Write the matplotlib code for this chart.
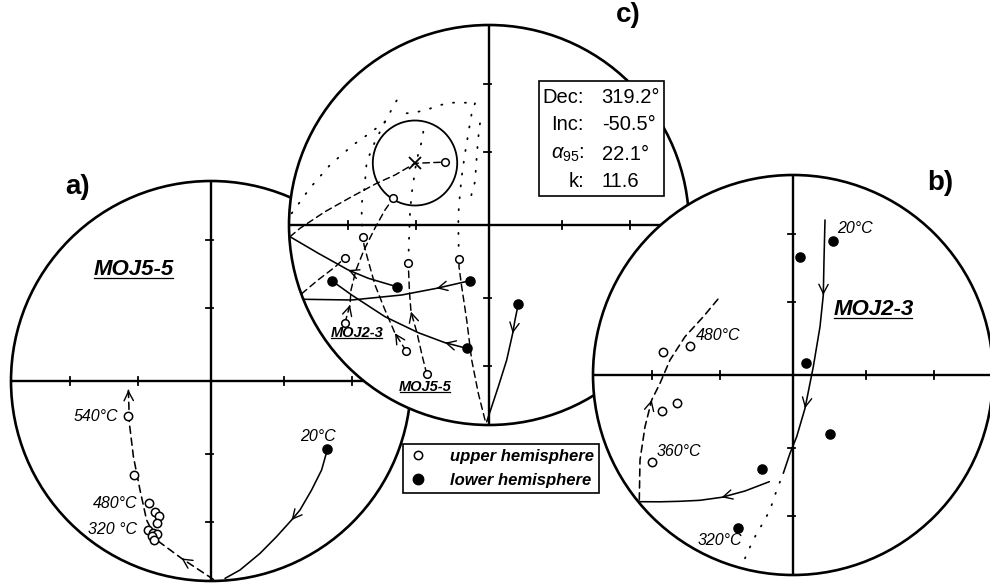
import matplotlib
matplotlib.use('Agg')
import matplotlib.pyplot as plt
from matplotlib.patches import Circle, Ellipse, Rectangle
from matplotlib.lines import Line2D

plt.rcParams['font.family'] = ['Liberation Sans', 'DejaVu Sans']
plt.rcParams['mathtext.fontset'] = 'custom'
plt.rcParams['mathtext.rm'] = 'Liberation Sans'
plt.rcParams['mathtext.it'] = 'Liberation Sans:italic'

# all positions in equal-area net units (east, north), primitive radius = 1
tick_r = [0.366, 0.707]  # 60 and 30 deg inclination

# ---- a) MOJ5-5
a_open = [(-0.413, -0.175), (-0.383, -0.47), (-0.31, -0.612), (-0.28, -0.653),
          (-0.258, -0.673), (-0.272, -0.708), (-0.317, -0.745), (-0.288, -0.758),
          (-0.272, -0.767), (-0.297, -0.775), (-0.285, -0.795)]
a_closed = [(0.582, -0.342)]
a_solid = [(0.582, -0.342), (0.553, -0.445), (0.503, -0.545), (0.445, -0.645),
           (0.403, -0.695), (0.328, -0.778), (0.245, -0.862), (0.145, -0.945),
           (0.07, -0.987)]
a_dashed = [(0.012, -0.992), (-0.147, -0.887), (-0.272, -0.795), (-0.322, -0.695),
            (-0.355, -0.545), (-0.388, -0.378), (-0.408, -0.212), (-0.413, -0.045)]
a_temps = [('540°C', -0.465, -0.178, 'right'), ('480°C', -0.37, -0.615, 'right'),
           ('320 °C', -0.37, -0.745, 'right'), ('20°C', 0.535, -0.278, 'center')]

# ---- b) MOJ2-3
b_open = [(-0.6485, 0.1135), (-0.515, 0.1465), (-0.5815, -0.1415),
          (-0.6565, -0.1785), (-0.7035, -0.4335)]
b_closed = [(0.1985, 0.6715), (0.035, 0.5915), (0.0635, 0.0585), (0.185, -0.295),
            (-0.1535, -0.47), (-0.2765, -0.7665)]
b_solid1 = [(0.16, 0.775), (0.155, 0.575), (0.1515, 0.4), (0.135, 0.2415),
            (0.1015, 0.0415), (0.06, -0.1665), (0.0185, -0.3085), (-0.015, -0.3915),
            (-0.0485, -0.4915)]
b_solid2 = [(-0.1185, -0.5335), (-0.24, -0.58), (-0.3565, -0.6115), (-0.465, -0.6265),
            (-0.565, -0.6315), (-0.665, -0.634), (-0.765, -0.6335)]
b_dotted = [(-0.065, -0.5335), (-0.09, -0.6), (-0.115, -0.675), (-0.15, -0.74),
            (-0.1815, -0.7915), (-0.215, -0.86), (-0.24, -0.9165)]
b_dashed = [(-0.7685, -0.625), (-0.765, -0.425), (-0.74, -0.2585), (-0.7065, -0.125),
            (-0.665, -0.0415), (-0.615, 0.075), (-0.54, 0.1915), (-0.4485, 0.2915),
            (-0.365, 0.3915)]
b_temps = [('20°C', 0.2185, 0.7335, 'left'), ('480°C', -0.485, 0.195, 'left'),
           ('360°C', -0.6815, -0.3835, 'left'), ('320°C', -0.365, -0.8285, 'center')]

# ---- c) site mean
c_mean = (-0.37, 0.31)
c_a95 = (0.422, 0.425)
c_open = [(-0.22, 0.3165), (-0.4785, 0.1335), (-0.6285, -0.0615), (-0.72, -0.1635),
          (-0.4035, -0.1915), (-0.15, -0.1715), (-0.72, -0.4885), (-0.415, -0.6285),
          (-0.3115, -0.745)]
c_closed = [(-0.4615, -0.3085), (-0.7865, -0.28), (-0.1115, -0.6165),
            (-0.095, -0.2785), (0.1465, -0.395)]
c_solid = [
    [(-0.4615, -0.3085), (-0.6035, -0.2665), (-0.7035, -0.225), (-0.8535, -0.1415),
     (-0.995, -0.0585)],
    [(-0.1115, -0.6165), (-0.22, -0.5885), (-0.3535, -0.5385), (-0.52, -0.4585),
     (-0.6865, -0.35), (-0.7865, -0.2785)],
    [(-0.095, -0.2785), (-0.2615, -0.3165), (-0.4365, -0.35), (-0.6865, -0.375),
     (-0.928, -0.3715)],
    [(0.1465, -0.395), (0.13, -0.475), (0.1185, -0.5415), (0.0885, -0.675),
     (0.0465, -0.8085), (0.0135, -0.9085), (-0.0115, -0.9835)],
]
c_solid_arrows = [[2], [1], [1], [2]]
c_dashed = [
    [(-0.995, -0.0585), (-0.945, -0.0165), (-0.82, 0.0665), (-0.6865, 0.1415),
     (-0.5615, 0.2085), (-0.47, 0.25), (-0.37, 0.3085), (-0.245, 0.3135), (-0.22, 0.3165)],
    [(-0.72, -0.4885), (-0.695, -0.4), (-0.69, -0.325), (-0.665, -0.225),
     (-0.625, -0.125), (-0.57, -0.015), (-0.52, 0.075), (-0.4785, 0.1335)],
    [(-0.415, -0.6285), (-0.47, -0.5415), (-0.52, -0.425), (-0.57, -0.3),
     (-0.605, -0.175), (-0.625, -0.1), (-0.6285, -0.0615)],
    [(-0.3115, -0.745), (-0.335, -0.65), (-0.36, -0.54), (-0.39, -0.4335),
     (-0.398, -0.33), (-0.4035, -0.1915)],
    [(-0.02, -0.975), (-0.0535, -0.8415), (-0.0865, -0.675), (-0.1115, -0.475),
     (-0.1365, -0.3085), (-0.15, -0.2085), (-0.15, -0.1715)],
    [(-0.9365, -0.3435), (-0.855, -0.275), (-0.77, -0.21), (-0.72, -0.1635)],
]
c_dashed_arrows = [[], [1], [1], [3], [], []]
c_dotted = [
    [(-0.9865, 0.0585), (-0.895, 0.185), (-0.795, 0.3), (-0.68, 0.4), (-0.595, 0.46),
     (-0.52, 0.5165), (-0.47, 0.6085), (-0.445, 0.65)],
    [(-0.4115, 0.5585), (-0.3535, 0.5665), (-0.3035, 0.5785), (-0.2615, 0.595),
     (-0.2085, 0.6085), (-0.1565, 0.6135), (-0.07, 0.6085)],
    [(-0.07, 0.6085), (-0.0865, 0.5585), (-0.095, 0.5085), (-0.1035, 0.4585),
     (-0.1115, 0.4085), (-0.12, 0.3585), (-0.1285, 0.3), (-0.1365, 0.2415),
     (-0.145, 0.1585), (-0.1535, 0.05), (-0.1525, -0.075), (-0.15, -0.17)],
    [(-0.3285, 0.4665), (-0.3365, 0.4165), (-0.3535, 0.3585), (-0.37, 0.275),
     (-0.3785, 0.2085), (-0.3865, 0.1585), (-0.395, 0.0585), (-0.4, -0.075),
     (-0.4035, -0.19)],
    [(-0.52, 0.5165), (-0.57, 0.4165), (-0.6115, 0.3165), (-0.6235, 0.175),
     (-0.6365, 0.1085), (-0.6365, 0.0415), (-0.6325, -0.06)],
    [(-0.045, 0.5085), (-0.055, 0.425), (-0.0625, 0.325), (-0.07, 0.2165), (-0.095, 0.125)],
]
c_stats_names = ['Dec:', 'Inc:', r'$\alpha_{95}$:', 'k:']
c_stats_values = ['319.2°', '-50.5°', '22.1°', '11.6']

# net centres in pixels of the 990x584 figure, and drawing order
centres = {'a': (211, 381), 'c': (489, 225), 'b': (793, 375)}
order = {'a': 1, 'c': 2, 'b': 3}

W, H, R = 990, 584, 200
fig = plt.figure(figsize=(W / 100, H / 100), dpi=100)

DASH = (0, (4.5, 3))
DOT = (0, (0.6, 6))


def net_axes(key):
    cx, cy = centres[key]
    half = 1.1 * R
    ax = fig.add_axes([(cx - half) / W, (H - cy - half) / H, 2 * half / W, 2 * half / H])
    ax.set_xlim(-1.1, 1.1)
    ax.set_ylim(-1.1, 1.1)
    ax.set_axis_off()
    ax.set_zorder(order[key])
    disk = Circle((0, 0), 1, fc='white', ec='none', zorder=0)
    ax.add_patch(disk)
    ax.plot([-1, 1], [0, 0], color='k', lw=1.7, zorder=1, solid_capstyle='butt')
    ax.plot([0, 0], [-1, 1], color='k', lw=1.7, zorder=1, solid_capstyle='butt')
    for r in tick_r:
        for s in (-1, 1):
            ax.plot([s * r, s * r], [-0.022, 0.022], color='k', lw=1.3, zorder=1)
            ax.plot([-0.024, 0.012], [s * r, s * r], color='k', lw=1.3, zorder=1)
    ax.add_patch(Circle((0, 0), 1, fc='none', ec='k', lw=1.9, zorder=8))
    return ax, disk


def draw_path(ax, disk, pts, ls, arrows=(), lw=1.15):
    xs, ys = zip(*pts)
    ln, = ax.plot(xs, ys, color='k', lw=lw, ls=ls, zorder=3,
                  solid_capstyle='round', dash_capstyle='round')
    ln.set_clip_path(disk)
    for i in arrows:
        (x0, y0), (x1, y1) = pts[i - 1], pts[i]
        d = ((x1 - x0) ** 2 + (y1 - y0) ** 2) ** 0.5
        ax.annotate('', xy=(x1, y1), xytext=(x1 - 0.01 * (x1 - x0) / d, y1 - 0.01 * (y1 - y0) / d),
                    arrowprops=dict(arrowstyle='->,head_length=0.55,head_width=0.28',
                                    lw=1.0, color='k', shrinkA=0, shrinkB=0,
                                    mutation_scale=12), zorder=4)


def draw_points(ax, pts, filled, ms):
    xs, ys = zip(*pts)
    ax.plot(xs, ys, ls='none', marker='o', ms=ms, mec='k', mew=1.1,
            mfc='k' if filled else 'white', zorder=5)


underlined = []

# ---- panel a
ax_a, disk_a = net_axes('a')
draw_path(ax_a, disk_a, a_solid, '-', arrows=[4])
draw_path(ax_a, disk_a, a_dashed, DASH, arrows=[1, 7])
draw_points(ax_a, a_open, False, 6)
draw_points(ax_a, a_closed, True, 6.5)
for txt, x, y, ha in a_temps:
    ax_a.text(x, y, txt, ha=ha, va='center', fontsize=11.5, style='italic', zorder=6)
t = ax_a.text(-0.388, 0.558, 'MOJ5-5', ha='center', va='center', fontsize=16,
              weight='bold', style='italic', zorder=6)
underlined.append(t)
ax_a.text(-0.665, 0.97, 'a)', ha='center', va='center', fontsize=20, weight='bold')

# ---- panel c
ax_c, disk_c = net_axes('c')
for pts in c_dotted:
    draw_path(ax_c, disk_c, pts, DOT, lw=1.3)
for pts, arr in zip(c_dashed, c_dashed_arrows):
    draw_path(ax_c, disk_c, pts, DASH, arrows=arr, lw=1.05)
for pts, arr in zip(c_solid, c_solid_arrows):
    draw_path(ax_c, disk_c, pts, '-', arrows=arr, lw=1.15)
ax_c.add_patch(Ellipse(c_mean, c_a95[0], c_a95[1], fc='none', ec='k', lw=1.3, zorder=4))
ax_c.plot(*c_mean, marker='x', ms=9, mew=1.3, color='k', zorder=5)
draw_points(ax_c, c_open, False, 5.5)
draw_points(ax_c, c_closed, True, 6.5)
for txt, x, y in [('MOJ2-3', -0.6615, -0.54), ('MOJ5-5', -0.32, -0.8085)]:
    t = ax_c.text(x, y, txt, ha='center', va='center', fontsize=10.5, weight='bold',
                  style='italic', zorder=6)
    underlined.append(t)
ax_c.add_patch(Rectangle((0.2515, 0.145), 0.625, 0.5765, fc='white', ec='k', lw=1.2,
                         zorder=9, clip_on=False))
for i, (nm, val) in enumerate(zip(c_stats_names, c_stats_values)):
    y = [0.6385, 0.505, 0.355, 0.2165][i]
    ax_c.text(0.475, y, nm, ha='right', va='center', fontsize=14.5, zorder=10)
    ax_c.text(0.5635, y, val, ha='left', va='center', fontsize=14.5, zorder=10)
ax_c.text(0.6965, 1.05, 'c)', ha='center', va='center', fontsize=20, weight='bold',
          clip_on=False)

# ---- panel b
ax_b, disk_b = net_axes('b')
draw_path(ax_b, disk_b, b_dotted, DOT, lw=1.3)
draw_path(ax_b, disk_b, b_dashed, DASH, arrows=[3])
draw_path(ax_b, disk_b, b_solid1, '-', arrows=[2, 5])
draw_path(ax_b, disk_b, b_solid2, '-', arrows=[2])
draw_points(ax_b, b_open, False, 6)
draw_points(ax_b, b_closed, True, 6.5)
for txt, x, y, ha in b_temps:
    ax_b.text(x, y, txt, ha=ha, va='center', fontsize=11.5, style='italic', zorder=6)
t = ax_b.text(0.4015, 0.325, 'MOJ2-3', ha='center', va='center', fontsize=16,
              weight='bold', style='italic', zorder=6)
underlined.append(t)
ax_b.text(0.735, 0.9585, 'b)', ha='center', va='center', fontsize=20, weight='bold')

# ---- legend
handles = [Line2D([], [], ls='none', marker='o', ms=6, mfc='white', mec='k', mew=1.1),
           Line2D([], [], ls='none', marker='o', ms=7.5, mfc='k', mec='k')]
leg = fig.legend(handles, ['upper hemisphere', 'lower hemisphere'], loc='center',
                 bbox_to_anchor=(0.506, 0.198), frameon=True, fancybox=False,
                 framealpha=1, edgecolor='k', borderpad=0.3, labelspacing=0.5,
                 handlelength=1.2, handletextpad=1.3,
                 prop={'weight': 'bold', 'style': 'italic', 'size': 12})
leg.get_frame().set_linewidth(1.2)
leg.set_zorder(10)

# underline the sample names
fig.canvas.draw()
for t in underlined:
    bb = t.get_window_extent()
    inv = t.axes.transData.inverted()
    (x0, y0), (x1, _) = inv.transform([[bb.x0 + 1, bb.y0 + 2], [bb.x1 - 1, bb.y0 + 2]])
    t.axes.plot([x0, x1], [y0, y0], color='k', lw=0.9, zorder=6, clip_on=False)

fig.savefig('out.png', dpi=100)
